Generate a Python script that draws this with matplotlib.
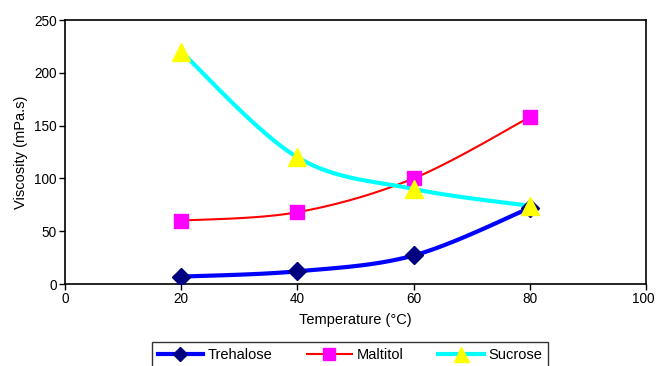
import numpy as np
import matplotlib
matplotlib.use("Agg")
import matplotlib.pyplot as plt
import matplotlib.transforms as mtransforms
from matplotlib.lines import Line2D

plt.rcParams['font.family'] = ['Liberation Sans', 'DejaVu Sans']

temperature = [20, 40, 60, 80]
trehalose = [7, 12, 27, 72]
maltitol = [60, 68, 100, 158]
sucrose = [220, 120, 90, 74]
series_names = ["Trehalose", "Maltitol", "Sucrose"]
x_ticks = [0, 20, 40, 60, 80, 100]
y_ticks = [0, 50, 100, 150, 200, 250]


def smooth(xs, ys, n=30):
    # Bezier smoothing (Excel-like) through the data points
    x = np.asarray(xs, float); y = np.asarray(ys, float)
    px = np.concatenate([[x[0]], x, [x[-1]]])
    py = np.concatenate([[y[0]], y, [y[-1]]])
    outx, outy = [], []
    t = np.linspace(0, 1, n)
    for i in range(1, len(px) - 2):
        p0 = np.array([px[i], py[i]]); p1 = np.array([px[i + 1], py[i + 1]])
        c1 = p0 + (p1 - np.array([px[i - 1], py[i - 1]])) / 6
        c2 = p1 - (np.array([px[i + 2], py[i + 2]]) - p0) / 6
        b = ((1 - t) ** 3)[:, None] * p0 + (3 * (1 - t) ** 2 * t)[:, None] * c1 \
            + (3 * (1 - t) * t ** 2)[:, None] * c2 + (t ** 3)[:, None] * p1
        outx.extend(b[:, 0]); outy.extend(b[:, 1])
    return outx, outy


fig = plt.figure(figsize=(6.56, 3.66), dpi=100)
ax = fig.add_axes([65 / 656, 1 - 284 / 366, (646 - 65) / 656, (284 - 20) / 366])

styles = [
    dict(data=trehalose, lc='#0000FF', lw=3.0, m='D', mfc='#000080', ms=9.5),
    dict(data=maltitol, lc='#FF0000', lw=1.5, m='s', mfc='#FF00FF', ms=10.5),
    dict(data=sucrose, lc='#00FFFF', lw=3.0, m='^', mfc='#FFFF00', ms=13.5),
]
handles = []
for name, s in zip(series_names, styles):
    sx, sy = smooth(temperature, s['data'])
    ax.plot(sx, sy, color=s['lc'], lw=s['lw'], solid_capstyle='round', zorder=2)
    ax.plot(temperature, s['data'], ls='none', marker=s['m'], ms=s['ms'],
            mfc=s['mfc'], mec=s['mfc'], zorder=3)
    handles.append(Line2D([], [], color=s['lc'], lw=s['lw'], marker=s['m'],
                          ms=s['ms'] * 0.8, mfc=s['mfc'], mec=s['mfc'], label=name))

ax.set_xlim(0, 100)
ax.set_ylim(0, 250)
ax.set_xticks(x_ticks)
ax.set_yticks(y_ticks)
ax.tick_params(direction='out', length=4, width=1, labelsize=9.8, colors='black', pad=2)
for sp in ax.spines.values():
    sp.set_linewidth(1.2)
ax.set_xlabel("Temperature (°C)", fontsize=10.5, labelpad=5)
ax.set_ylabel("Viscosity (mPa.s)", fontsize=10.5, labelpad=4)

fig.canvas.draw()
last = ax.get_xticklabels()[-1]
last.set_transform(last.get_transform() +
                   mtransforms.ScaledTranslation(-2.5 / 100, 0, fig.dpi_scale_trans))

leg = fig.legend(handles=handles, loc='upper center', ncol=3,
                 bbox_to_anchor=(350 / 656, 1 - 342 / 366), frameon=True,
                 fontsize=10.5, handlelength=3.1, columnspacing=2.35, handletextpad=0.35,
                 borderpad=0.4, fancybox=False, borderaxespad=0)
leg.get_frame().set_edgecolor('black')
leg.get_frame().set_linewidth(1.0)

fig.savefig("out.png", dpi=100)
